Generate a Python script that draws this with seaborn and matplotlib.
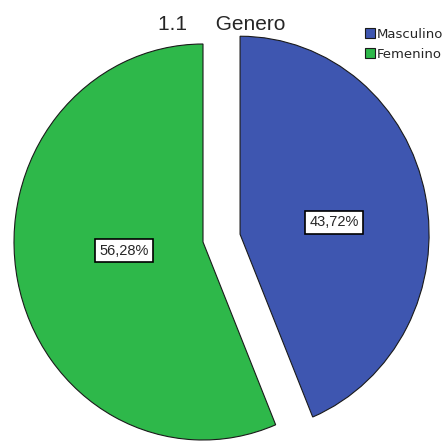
import matplotlib
matplotlib.use("Agg")
import matplotlib.pyplot as plt
import seaborn as sns
import numpy as np

categories = ["Masculino", "Femenino"]
values = [43.72, 56.28]
pct_labels = ["43,72%", "56,28%"]
title = "1.1     Genero"

sns.set_style("white")
plt.rcParams["font.family"] = ["Liberation Sans", "DejaVu Sans"]
colors = ["#3E56B0", "#2EB84A"]

W, H = 448.0, 441.0
fig = plt.figure(figsize=(W / 100, H / 100), dpi=100)
RX, RY = 189.0, 198.0
cx, cy = 203.0, 242.0
ax = fig.add_axes([0, 0, 1, 1])
wedges, texts = ax.pie(values, colors=colors, startangle=90, counterclock=False,
                       explode=[0.2, 0.0], radius=1.0,
                       wedgeprops=dict(edgecolor="#1a1a1a", linewidth=0.8))
ax.set_aspect("auto")
ax.set_xlim(-cx / RX, (W - cx) / RX)
ax.set_ylim(-(H - cy) / RY, cy / RY)
ax.axis("off")

# label placement relative to each wedge's centre (distance, angle in degrees)
label_place = [(0.50, 7.0), (0.42, 186.0)]
for w, lab, (d, a) in zip(wedges, pct_labels, label_place):
    c = w.center
    ang = np.deg2rad(a)
    ax.text(c[0] + d * np.cos(ang), c[1] + d * np.sin(ang), lab, ha="center", va="center",
            fontsize=10.5, bbox=dict(boxstyle="square,pad=0.3", fc="white", ec="black", lw=1.2))

fig.text(222 / W, 1 - 24 / H, title, ha="center", va="center", fontsize=15)
fig.legend(wedges, categories, loc="upper left", bbox_to_anchor=(362 / W, 1 - 25 / H),
           frameon=False, prop={"family": "DejaVu Sans", "size": 9.5},
           handlelength=0.75, handleheight=0.75,
           labelspacing=0.55, handletextpad=0.2, borderpad=0.2, borderaxespad=0)
fig.savefig("out.png", dpi=100)
